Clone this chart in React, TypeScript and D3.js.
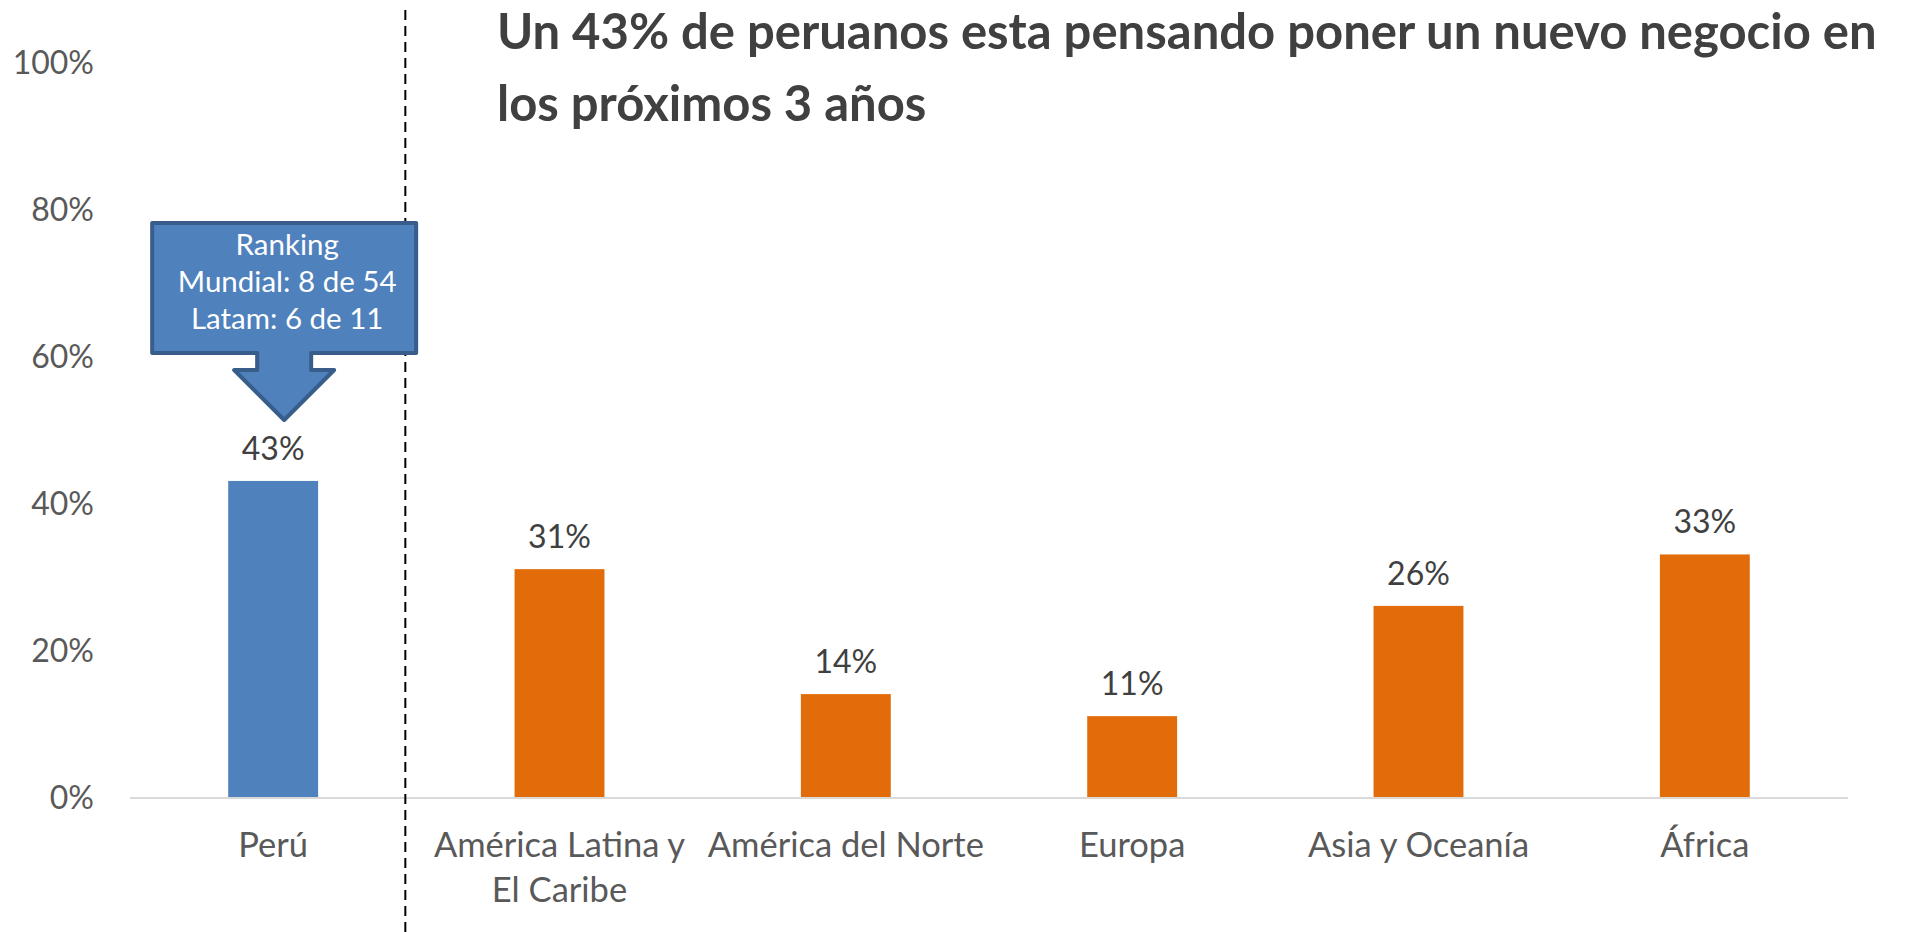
import React, { useEffect, useRef } from "react";
import * as d3 from "d3";

// chart data
const categories = [
  "Perú",
  "América Latina y El Caribe",
  "América del Norte",
  "Europa",
  "Asia y Oceanía",
  "África",
];
const categoryLines = [
  ["Perú"],
  ["América Latina y", "El Caribe"],
  ["América del Norte"],
  ["Europa"],
  ["Asia y Oceanía"],
  ["África"],
];
const values = [0.43, 0.31, 0.14, 0.11, 0.26, 0.33];
const yTicks = [0, 0.2, 0.4, 0.6, 0.8, 1];
const titleLines = [
  "Un 43% de peruanos esta pensando poner un nuevo negocio en",
  "los próximos 3 años",
];
const calloutLines = ["Ranking", "Mundial: 8 de 54", "Latam: 6 de 11"];

const BLUE = "#4F81BD";
const ORANGE = "#E36C0A";
const FONT = "Lato, 'Open Sans', sans-serif";

export default function App() {
  const ref = useRef<SVGSVGElement>(null);

  useEffect(() => {
    const width = 1925,
      height = 932;
    const margin = { left: 130, right: 77, top: 62, bottom: 135 };

    const svg = d3.select(ref.current);
    svg.selectAll("*").remove();

    const x = d3
      .scaleBand()
      .domain(categories)
      .range([margin.left, width - margin.right])
      .paddingInner(0)
      .paddingOuter(0);

    const y = d3
      .scaleLinear()
      .domain([0, 1])
      .range([height - margin.bottom, margin.top]);

    const barW = x.bandwidth() * 0.314;

    // y tick labels (no axis line, no gridlines)
    svg
      .append("g")
      .selectAll("text")
      .data(yTicks)
      .enter()
      .append("text")
      .attr("x", 94)
      .attr("y", (d) => y(d))
      .attr("dy", "0.36em")
      .attr("text-anchor", "end")
      .attr("font-family", FONT)
      .attr("font-size", 32)
      .attr("fill", "#595959")
      .text((d) => d3.format(".0%")(d));

    // bars
    svg
      .append("g")
      .selectAll("rect")
      .data(values)
      .enter()
      .append("rect")
      .attr("x", (d, i) => x(categories[i])! + x.bandwidth() / 2 - barW / 2)
      .attr("y", (d) => y(d))
      .attr("width", barW)
      .attr("height", (d) => y(0) - y(d))
      .attr("fill", (d, i) => (i === 0 ? BLUE : ORANGE));

    // baseline
    svg
      .append("line")
      .attr("x1", margin.left)
      .attr("x2", width - margin.right)
      .attr("y1", y(0) + 1)
      .attr("y2", y(0) + 1)
      .attr("stroke", "#D9D9D9")
      .attr("stroke-width", 2);

    // value labels
    svg
      .append("g")
      .selectAll("text")
      .data(values)
      .enter()
      .append("text")
      .attr("x", (d, i) => x(categories[i])! + x.bandwidth() / 2)
      .attr("y", (d) => y(d) - 21)
      .attr("text-anchor", "middle")
      .attr("font-family", FONT)
      .attr("font-size", 32)
      .attr("fill", "#404040")
      .text((d) => d3.format(".0%")(d));

    // category labels
    const cat = svg
      .append("g")
      .selectAll("text")
      .data(categoryLines)
      .enter()
      .append("text")
      .attr("text-anchor", "middle")
      .attr("font-family", FONT)
      .attr("font-size", 34.5)
      .attr("fill", "#595959");
    cat
      .selectAll("tspan")
      .data((d, i) => d.map((line) => ({ line, i })))
      .enter()
      .append("tspan")
      .attr("x", (d) => x(categories[d.i])! + x.bandwidth() / 2)
      .attr("y", (d, j) => y(0) + 60 + j * 45)
      .text((d) => d.line);

    // dashed separator between Perú and the regions
    const sepX = x(categories[1])! - 11;
    svg
      .append("line")
      .attr("x1", sepX)
      .attr("x2", sepX)
      .attr("y1", 10)
      .attr("y2", height)
      .attr("stroke", "#000")
      .attr("stroke-width", 2)
      .attr("stroke-dasharray", "10,6");

    // title
    const title = svg
      .append("text")
      .attr("font-family", FONT)
      .attr("font-weight", "bold")
      .attr("font-size", 49)
      .attr("fill", "#404040");
    title
      .selectAll("tspan")
      .data(titleLines)
      .enter()
      .append("tspan")
      .attr("x", 497)
      .attr("y", (d, i) => 49 + i * 72)
      .text((d) => d);

    // callout arrow pointing at Perú
    const cx = x(categories[0])! + x.bandwidth() / 2 + 11;
    const boxL = cx - 132,
      boxR = cx + 132,
      boxT = 223,
      boxB = 353;
    const shaft = 27,
      head = 50,
      shaftB = 370,
      tip = 420;
    const path = [
      [boxL, boxT],
      [boxR, boxT],
      [boxR, boxB],
      [cx + shaft, boxB],
      [cx + shaft, shaftB],
      [cx + head, shaftB],
      [cx, tip],
      [cx - head, shaftB],
      [cx - shaft, shaftB],
      [cx - shaft, boxB],
      [boxL, boxB],
    ];
    svg
      .append("path")
      .attr("d", d3.line()(path as [number, number][]) + "Z")
      .attr("fill", BLUE)
      .attr("stroke", "#385D8A")
      .attr("stroke-width", 4)
      .attr("stroke-linejoin", "round");

    const callout = svg
      .append("text")
      .attr("text-anchor", "middle")
      .attr("font-family", FONT)
      .attr("font-size", 29.5)
      .attr("fill", "#fff");
    callout
      .selectAll("tspan")
      .data(calloutLines)
      .enter()
      .append("tspan")
      .attr("x", cx + 3)
      .attr("y", (d, i) => 255 + i * 37)
      .text((d) => d);
  }, []);

  return (
    <div style={{ position: "absolute", left: 0, top: 0 }}>
      <svg ref={ref} width={1925} height={932} style={{ display: "block", background: "#fff" }} />
    </div>
  );
}
